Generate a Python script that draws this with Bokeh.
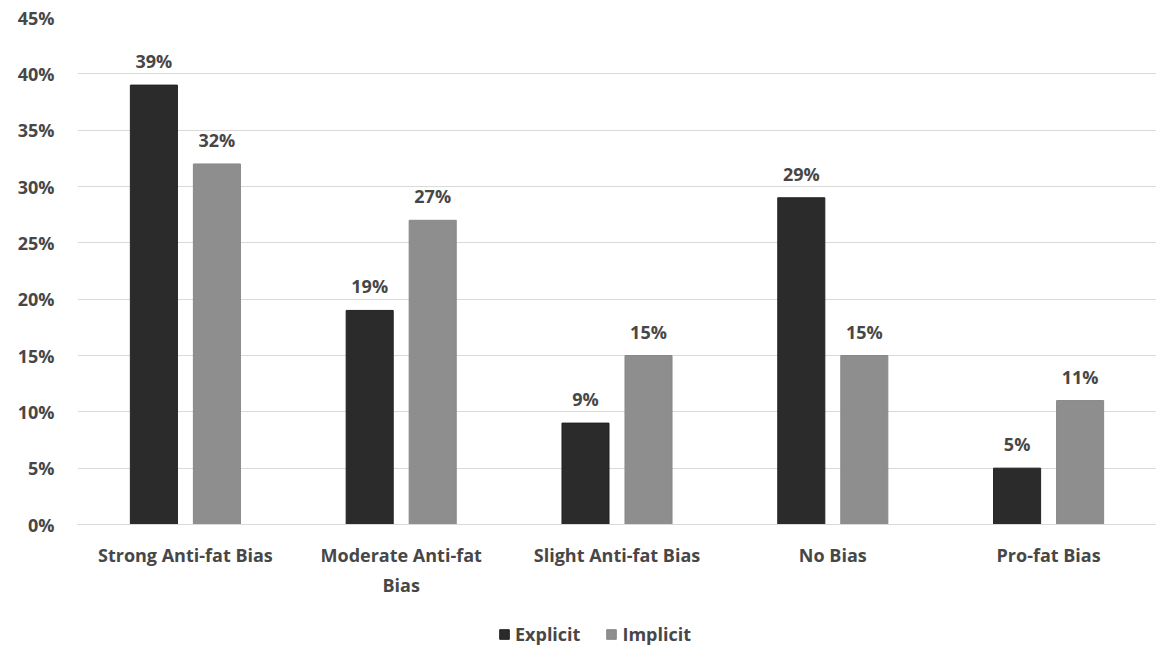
from bokeh.plotting import figure
from bokeh.layouts import column
from bokeh.models import ColumnDataSource, FactorRange, Range1d, NumeralTickFormatter, Legend, LegendItem, SingleIntervalTicker
from bokeh.transform import dodge
from bokeh.core.properties import value
from bokeh.embed import file_html
from bokeh.resources import INLINE

categories = ["Strong Anti-fat Bias", "Moderate Anti-fat\nBias", "Slight Anti-fat Bias", "No Bias", "Pro-fat Bias"]
explicit = [0.39, 0.19, 0.09, 0.29, 0.05]
implicit = [0.32, 0.27, 0.15, 0.15, 0.11]
series_names = ["Explicit", "Implicit"]
colors = ["#2b2b2b", "#8e8e8e"]

src = ColumnDataSource(dict(
    cat=categories,
    explicit=explicit,
    implicit=implicit,
    explicit_lbl=[f"{round(v*100)}%" for v in explicit],
    implicit_lbl=[f"{round(v*100)}%" for v in implicit],
))

FONT = "Open Sans"
FS = "18px"
FSTYLE = "bold"
TXT = "#474747"

p = figure(width=1156, height=614, x_range=FactorRange(*categories), y_range=Range1d(0, 0.45),
           output_backend="svg", toolbar_location=None,
           min_border_left=77, min_border_right=0, min_border_top=17, min_border_bottom=90)
p.outline_line_color = None
p.x_range.range_padding = 0

p.vbar(x=dodge("cat", -0.146, range=p.x_range), top="explicit", width=0.218, source=src,
       fill_color=colors[0], line_color="#222222", line_width=1)
p.vbar(x=dodge("cat", 0.146, range=p.x_range), top="implicit", width=0.218, source=src,
       fill_color=colors[1], line_color="#888888", line_width=1)

for off, col, lbl in [(-0.146, "explicit", "explicit_lbl"), (0.146, "implicit", "implicit_lbl")]:
    p.text(x=dodge("cat", off, range=p.x_range), y=col, text=lbl, source=src,
           text_align="center", text_baseline="bottom", y_offset=-12,
           text_font=value(FONT), text_font_size=FS, text_font_style=FSTYLE, text_color=TXT)

p.yaxis.ticker = SingleIntervalTicker(interval=0.05)
p.yaxis.formatter = NumeralTickFormatter(format="0%")
p.yaxis.axis_line_color = None
p.yaxis.major_tick_line_color = None
p.yaxis.minor_tick_line_color = None
p.yaxis.major_label_text_font = FONT
p.yaxis.major_label_text_font_size = FS
p.yaxis.major_label_text_font_style = FSTYLE
p.yaxis.major_label_text_color = TXT
p.yaxis.major_label_standoff = 17

p.xaxis.axis_line_color = "#d9d9d9"
p.xaxis.major_tick_line_color = None
p.xaxis.minor_tick_line_color = None
p.xaxis.major_label_text_font = FONT
p.xaxis.major_label_text_font_size = FS
p.xaxis.major_label_text_font_style = FSTYLE
p.xaxis.major_label_text_color = TXT
p.xaxis.major_label_text_line_height = 1.25
p.xaxis.major_label_standoff = 12

p.xgrid.grid_line_color = None
p.ygrid.grid_line_color = "#d9d9d9"
p.ygrid.grid_line_width = 1

# legend strip below the chart (dummy renderers placed outside the visible range)
lg = figure(width=1156, height=32, x_range=Range1d(0, 1), y_range=Range1d(0, 1),
            output_backend="svg", toolbar_location=None,
            min_border_left=0, min_border_right=0, min_border_top=0, min_border_bottom=0)
lg.outline_line_color = None
lg.axis.visible = False
lg.grid.grid_line_color = None
e1 = lg.vbar(x=[10], top=[10], bottom=[9], width=0.1, fill_color=colors[0], line_color="#222222")
e2 = lg.vbar(x=[10], top=[10], bottom=[9], width=0.1, fill_color=colors[1], line_color="#888888")
legend = Legend(items=[LegendItem(label=series_names[0], renderers=[e1]),
                       LegendItem(label=series_names[1], renderers=[e2])],
                orientation="horizontal", location=(421, 0),
                label_text_font=FONT, label_text_font_size=FS, label_text_font_style=FSTYLE,
                label_text_color=TXT,
                glyph_width=12, glyph_height=12, label_standoff=5, spacing=25,
                padding=0, margin=0, border_line_color=None, background_fill_alpha=0)
lg.add_layout(legend, "center")

layout = column(p, lg, spacing=0)
open("out.html", "w").write(file_html(layout, INLINE))
